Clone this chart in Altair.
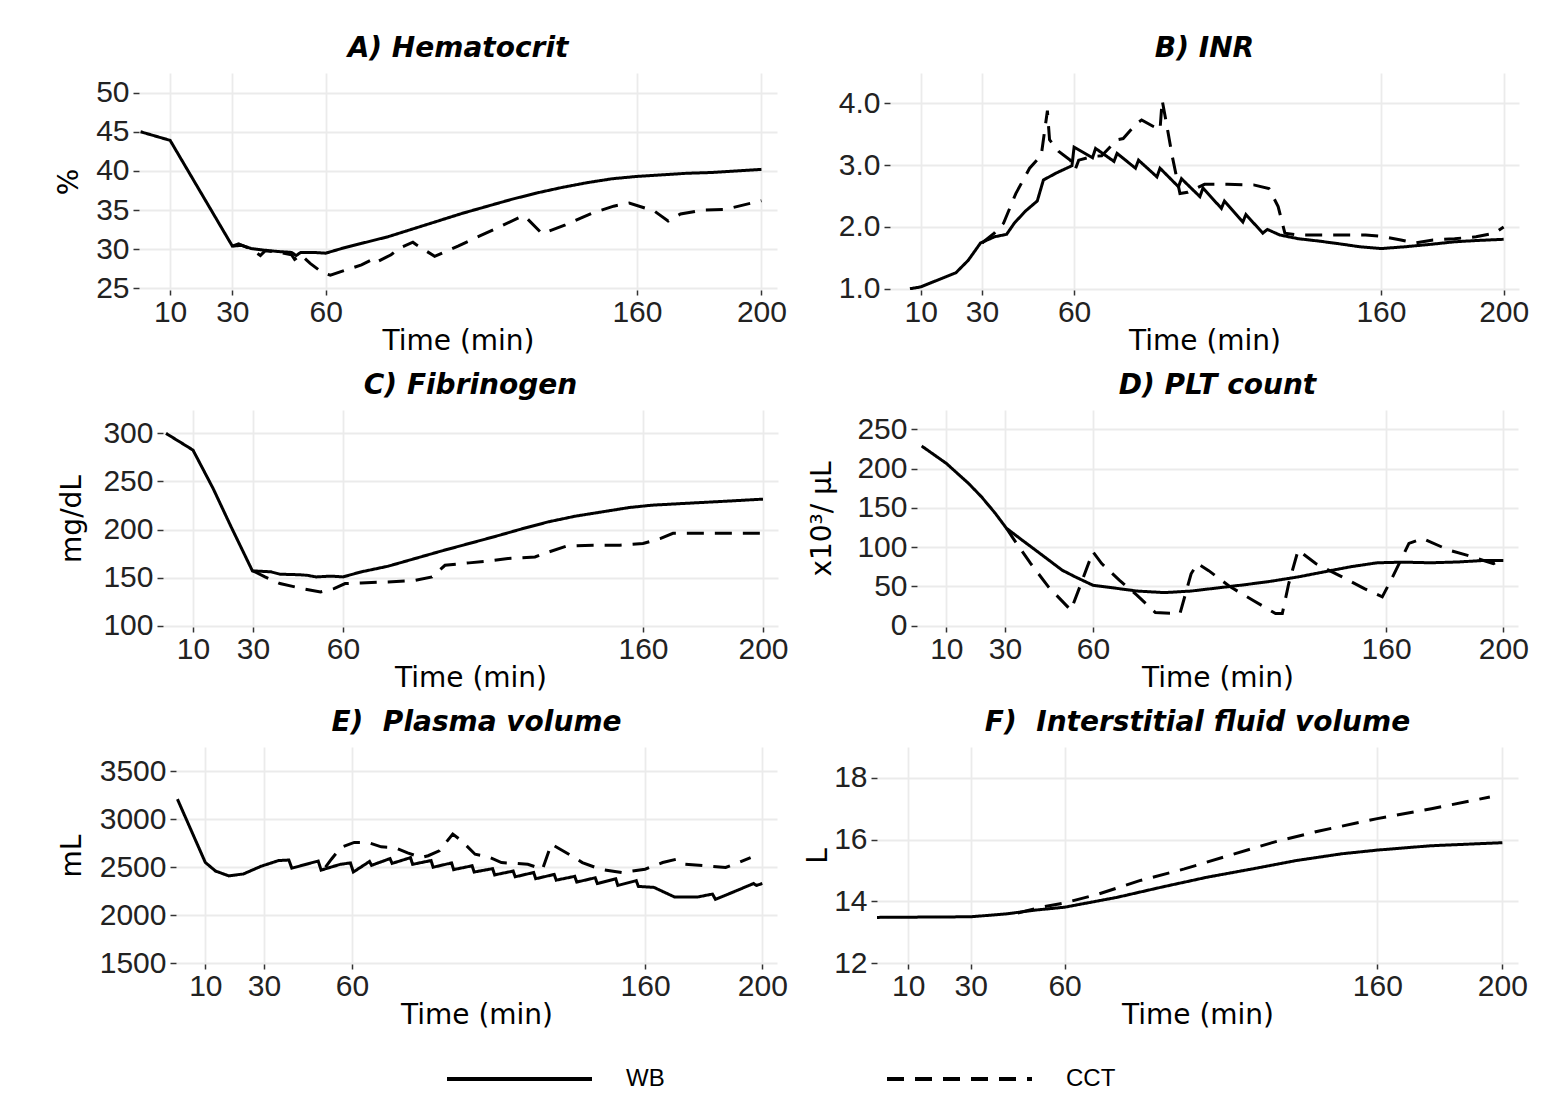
import altair as alt
import pandas as pd

X_TICKS = [10, 30, 60, 160, 200]
GROUPS = ["WB", "CCT"]

# ---------------- A) Hematocrit (%) ----------------
A_WB_T = [0.5, 10, 30, 33, 36, 40, 45, 49, 50.5, 52, 56, 60, 66, 72, 80, 88, 96, 104, 112,
          120, 128, 136, 144, 152, 160, 168, 176, 184, 192, 200]
A_WB_V = [45.0, 43.9, 30.4, 30.5, 30.1, 29.9, 29.7, 29.6, 29.2, 29.6, 29.6, 29.5, 30.2, 30.8,
          31.6, 32.6, 33.6, 34.6, 35.5, 36.4, 37.2, 37.9, 38.5, 39.0, 39.3, 39.5, 39.7, 39.8,
          40.0, 40.2]
A_CCT_T = [30, 32, 36, 39, 40.5, 45, 49, 50, 52, 55, 59, 61.5, 66, 71.5, 75, 76, 81, 83.5, 88,
           89, 95, 102.5, 109.5, 115, 122.5, 124, 129.5, 137, 145.5, 152.5, 157.5, 165.5, 170,
           174, 181, 188.5, 200]
A_CCT_V = [30.4, 30.7, 30.0, 29.2, 29.8, 29.6, 29.3, 28.7, 29.3, 28.2, 27.0, 26.7, 27.3, 28.0,
           28.7, 28.3, 29.3, 30.1, 30.9, 30.6, 29.1, 30.4, 31.7, 32.7, 34.1, 34.2, 32.0, 33.1,
           34.6, 35.5, 35.9, 34.9, 33.6, 34.5, 35.0, 35.1, 36.2]

# ---------------- B) INR ----------------
B_WB_T = [6.5, 10, 21.5, 25.5, 29.5, 34, 38, 40.5, 44, 48, 50, 54.5, 59.3, 60, 66, 67, 73, 74,
          80, 81, 87, 88, 94, 95, 101, 102, 108, 109, 115, 116, 121.5, 123, 127, 133, 140,
          147.5, 153, 160, 168, 176.5, 184, 191, 200]
B_WB_V = [1.0, 1.03, 1.26, 1.46, 1.74, 1.84, 1.88, 2.06, 2.25, 2.42, 2.76, 2.88, 2.99, 3.29,
          3.12, 3.27, 3.06, 3.19, 2.95, 3.08, 2.81, 2.95, 2.65, 2.78, 2.49, 2.63, 2.30, 2.42,
          2.08, 2.20, 1.90, 1.96, 1.87, 1.81, 1.77, 1.72, 1.68, 1.65, 1.68, 1.72, 1.76, 1.78,
          1.80]
B_CCT_T = [30, 34, 37, 41, 45.5, 49.3, 51.3, 52, 55, 58.8, 60.3, 61.5, 66, 69, 74, 76, 80.5,
           82, 86, 88, 88.7, 90, 92, 94.5, 97, 102.5, 110, 118.5, 123.5, 126.5, 128.7, 133,
           140, 148, 155, 160, 166.5, 171, 177, 184, 191, 197, 200]
B_CCT_V = [1.74, 1.9, 2.06, 2.54, 2.95, 3.16, 3.88, 3.41, 3.22, 3.08, 2.92, 3.08, 3.14, 3.15,
           3.41, 3.43, 3.68, 3.73, 3.62, 3.57, 4.05, 3.7, 3.14, 2.54, 2.56, 2.69, 2.69, 2.68,
           2.62, 2.33, 1.9, 1.87, 1.87, 1.87, 1.87, 1.85, 1.79, 1.74, 1.79, 1.81, 1.84, 1.9,
           2.0]

# ---------------- C) Fibrinogen (mg/dL) ----------------
C_WB_T = [1, 10, 16.7, 22.7, 29.8, 36, 39, 45, 48, 51, 56, 60, 66, 75, 84, 93, 102, 111, 120,
          128.5, 137.5, 146.5, 155.5, 163, 173, 188, 200]
C_WB_V = [300, 282.6, 242.7, 202.8, 157, 156, 153.5, 153, 152.4, 150.7, 151.5, 150.7, 155.9,
          161.8, 169.8, 177.8, 185.4, 193, 201, 208, 213.9, 218.4, 222.9, 225.3, 227, 229.5,
          231.6]
C_CCT_T = [30, 34, 39, 46.5, 52.5, 57, 60.7, 66, 75, 84, 89.7, 94, 102, 109, 115, 124, 127,
           134.4, 143.4, 152.3, 160, 165.7, 170, 180.6, 191, 200]
C_CCT_V = [157, 150.7, 143.8, 138.5, 135, 138.5, 143.8, 144.4, 145.5, 147, 150.7, 162.8, 165.3,
           167.4, 169.8, 171.5, 175, 182.6, 183.7, 183.7, 185.4, 190.6, 196, 196, 196, 196]

# ---------------- D) PLT count (x10^3/uL) ----------------
D_WB_T = [1.6, 10, 17.6, 22, 26.7, 30.5, 35.8, 41.9, 49.5, 54, 60, 66, 75, 84.4, 93.5, 102.6,
          111.7, 120.8, 130, 139, 148, 157, 166, 175, 184.5, 193.6, 200]
D_WB_V = [228.7, 206.6, 181, 164, 143, 124, 109, 92, 70.6, 62, 51.4, 48.5, 44, 42, 44, 48, 52,
          56.5, 62, 68.5, 75, 80, 80.8, 80, 81, 83, 83]
D_CCT_T = [30.5, 32.8, 38.8, 44.9, 52.5, 55.5, 60, 63, 69, 75, 81.3, 89.7, 93.5, 95.7, 99.5,
           107, 114.7, 122.3, 124.6, 126.8, 130, 136, 145, 152.6, 158.7, 161.7, 167.8, 172.4,
           181.5, 187.5, 196.6, 200]
D_CCT_V = [124, 111, 79, 49, 19.6, 49, 94, 79, 58, 38.7, 16.6, 15.3, 66, 79, 70, 49, 32, 15.3,
           15.3, 53.6, 96, 79, 62, 47.2, 36.6, 58, 104.6, 111, 96, 89.7, 79, 85]

# ---------------- E) Plasma volume (mL) ----------------
E_WB_T = [0.5, 10, 13.5, 18, 23, 29, 35, 38.5, 39.5, 45.5, 48.5, 49.5, 56, 59.5, 60.5, 66,
          66.7, 73, 73.7, 80, 80.7, 87, 87.7, 94, 94.7, 101, 101.7, 108, 108.7, 115, 115.7,
          122, 122.7, 129, 129.7, 136, 136.7, 143, 143.7, 150, 150.7, 157, 157.7, 163, 170,
          178, 183, 184, 190, 197, 198, 200]
E_WB_V = [3210, 2550, 2460, 2410, 2430, 2510, 2570, 2575, 2490, 2540, 2565, 2470, 2530, 2545,
          2450, 2560, 2520, 2590, 2540, 2600, 2530, 2570, 2500, 2545, 2475, 2515, 2450, 2485,
          2420, 2460, 2400, 2445, 2380, 2425, 2365, 2405, 2345, 2390, 2330, 2380, 2310, 2360,
          2300, 2290, 2190, 2190, 2220, 2165, 2240, 2330, 2310, 2330]
E_CCT_T = [51, 53, 56.2, 60.8, 65.4, 70, 74.5, 79, 83.7, 86, 89.8, 94.4, 97.4, 102, 106.6,
           111, 120, 125, 128, 134, 138.6, 144.7, 152, 160, 166, 170.7, 173.7, 181.3, 187.5,
           192, 196]
E_CCT_V = [2500, 2584, 2706, 2759, 2759, 2713, 2706, 2650, 2601, 2620, 2671, 2846, 2776, 2636,
           2608, 2549, 2531, 2479, 2741, 2636, 2549, 2479, 2444, 2479, 2549, 2584, 2531, 2514,
           2497, 2549, 2601]

# ---------------- F) Interstitial fluid volume (L) ----------------
F_WB_T = [0, 30, 41, 51, 60, 76.8, 91, 105.5, 120, 134, 148.6, 160, 177, 200]
F_WB_V = [13.48, 13.5, 13.59, 13.72, 13.81, 14.13, 14.46, 14.78, 15.05, 15.32, 15.54, 15.66,
          15.8, 15.9]
F_CCT_T = [45, 52.4, 60, 71, 84, 98.3, 112.7, 127, 141.4, 160, 177.3, 196]
F_CCT_V = [13.62, 13.81, 13.95, 14.24, 14.67, 15.05, 15.49, 15.92, 16.28, 16.68, 17.0, 17.38]


def make_df(wb_t, wb_v, cct_t, cct_v):
    return pd.DataFrame({
        "t": list(wb_t) + list(cct_t),
        "v": list(wb_v) + list(cct_v),
        "grp": ["WB"] * len(wb_t) + ["CCT"] * len(cct_t),
    })


LEGEND = alt.Legend(
    orient="none", legendX=437, legendY=1059, direction="horizontal", title=None,
    symbolType="stroke", symbolSize=21025, symbolStrokeWidth=4, symbolStrokeColor="black",
    labelFont="Liberation Sans", labelFontSize=24, labelColor="black", labelOffset=32,
    columnPadding=220, padding=0, clipHeight=24,
)


def panel(df, title, ytitle, ydom, yticks, yfmt, w, h, ytx):
    x = alt.X("t:Q", scale=alt.Scale(domain=[0, 205], nice=False, zero=False),
              axis=alt.Axis(values=X_TICKS, title="Time (min)", titleX=w / 2, titleY=51,
                            titleBaseline="middle", titleAlign="center"))
    y = alt.Y("v:Q", scale=alt.Scale(domain=ydom, nice=False, zero=False),
              axis=alt.Axis(values=yticks, format=yfmt, title=ytitle, titleX=ytx, titleY=h / 2,
                            titleBaseline="middle", titleAlign="center", titleAngle=270))
    sd = alt.StrokeDash("grp:N", scale=alt.Scale(domain=GROUPS, range=[[1, 0], [17, 11]]),
                        legend=LEGEND)
    return alt.Chart(df).mark_line(color="black", strokeWidth=3, clip=True).encode(
        x=x, y=y, strokeDash=sd
    ).properties(
        width=w, height=h,
        title=alt.TitleParams(title, anchor="middle", frame="group", offset=-4, baseline="middle"),
    )


def spacer(w, h):
    return alt.Chart(pd.DataFrame({"s": [0]})).mark_point(opacity=0, size=1).encode(
        x=alt.value(1), y=alt.value(1)
    ).properties(width=w, height=h)


H = 217
pA = panel(make_df(A_WB_T, A_WB_V, A_CCT_T, A_CCT_V), "A) Hematocrit", "%",
           [24.8, 52.5], [25, 30, 35, 40, 45, 50], "d", 638, H, -69.5)
pB = panel(make_df(B_WB_T, B_WB_V, B_CCT_T, B_CCT_V), "B) INR", "",
           [0.98, 4.49], [1, 2, 3, 4], ".1f", 629, H, -70)
pC = panel(make_df(C_WB_T, C_WB_V, C_CCT_T, C_CCT_V), "C) Fibrinogen", "mg/dL",
           [98.6, 324.3], [100, 150, 200, 250, 300], "d", 615, H, -91)
pD = panel(make_df(D_WB_T, D_WB_V, D_CCT_T, D_CCT_V), "D) PLT count", "x10³/ µL",
           [-1.8, 274.6], [0, 50, 100, 150, 200, 250], "d", 601, H, -95)
pE = panel(make_df(E_WB_T, E_WB_V, E_CCT_T, E_CCT_V), "E)\u00a0 Plasma volume", "mL",
           [1490, 3755], [1500, 2000, 2500, 3000, 3500], "d", 601, H, -104)
pF = panel(make_df(F_WB_T, F_WB_V, F_CCT_T, F_CCT_V), "F)\u00a0 Interstitial fluid volume", "L",
           [11.97, 19.0], [12, 14, 16, 18], "d", 641, H, -59)

row1 = alt.hconcat(spacer(131, H), pA, spacer(113, H), pB, spacing=0, bounds="flush")
row2 = alt.hconcat(spacer(155, H), pC, spacer(139, H), pD, spacing=0, bounds="flush")
row3 = alt.hconcat(spacer(168, H), pE, spacer(100, H), pF, spacing=0, bounds="flush")
# flush-bounded rows report zero height, so the gap holds the row height plus the gutter
grid = alt.vconcat(row1, row2, row3, spacing=H + 120, bounds="flush")

chart = alt.vconcat(spacer(10, 65), grid, spacing=0, bounds="flush").properties(
    padding={"left": 0, "top": 0, "right": 0, "bottom": 0}
).configure_view(
    strokeWidth=0
).configure_axis(
    labelFont="Liberation Sans", labelFontSize=30, labelColor="#222222",
    titleFont="DejaVu Sans", titleFontSize=28, titleFontWeight="normal", titleColor="black",
    gridColor="#EBEBEB", gridWidth=1.8, domain=False,
    tickColor="#333333", tickWidth=1.5, labelFlush=False, labelOverlap=False,
).configure_axisX(
    tickSize=5, labelPadding=2,
).configure_axisY(
    tickSize=6, labelPadding=4,
).configure_title(
    font="DejaVu Sans", fontSize=28, fontWeight="bold", fontStyle="italic", color="black",
)

chart.save("out.html", embed_options={"renderer": "svg", "actions": False})
